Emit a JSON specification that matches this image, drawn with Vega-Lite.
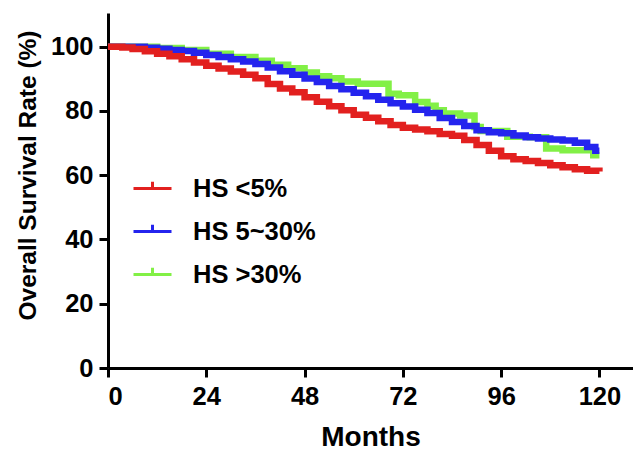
{
  "$schema": "https://vega.github.io/schema/vega-lite/v6.json",
  "autosize": {"type": "none"},
  "padding": {"left": 108, "top": 13, "right": 0, "bottom": 86},
  "width": 525,
  "height": 355,
  "background": "white",
  "datasets": {
    "km": [
      {"g": "HS >30%", "t": 0, "s": 100},
      {"g": "HS >30%", "t": 6, "s": 100},
      {"g": "HS >30%", "t": 12, "s": 99.6},
      {"g": "HS >30%", "t": 18, "s": 99.0},
      {"g": "HS >30%", "t": 24, "s": 97.8},
      {"g": "HS >30%", "t": 30, "s": 96.8},
      {"g": "HS >30%", "t": 36, "s": 95.6},
      {"g": "HS >30%", "t": 40, "s": 94.4},
      {"g": "HS >30%", "t": 44, "s": 93.3},
      {"g": "HS >30%", "t": 48, "s": 92.0},
      {"g": "HS >30%", "t": 51, "s": 90.8},
      {"g": "HS >30%", "t": 54, "s": 90.2},
      {"g": "HS >30%", "t": 57, "s": 89.2},
      {"g": "HS >30%", "t": 61, "s": 88.5},
      {"g": "HS >30%", "t": 68.5, "s": 85.4},
      {"g": "HS >30%", "t": 71, "s": 84.9},
      {"g": "HS >30%", "t": 75, "s": 82.8},
      {"g": "HS >30%", "t": 78, "s": 81.6},
      {"g": "HS >30%", "t": 80, "s": 80.2},
      {"g": "HS >30%", "t": 82, "s": 79.2},
      {"g": "HS >30%", "t": 86, "s": 78.6},
      {"g": "HS >30%", "t": 89.5, "s": 75.0},
      {"g": "HS >30%", "t": 91, "s": 73.8},
      {"g": "HS >30%", "t": 97.5, "s": 72.0},
      {"g": "HS >30%", "t": 103, "s": 71.8},
      {"g": "HS >30%", "t": 107, "s": 68.3},
      {"g": "HS >30%", "t": 111, "s": 67.8},
      {"g": "HS >30%", "t": 118.5, "s": 66.2},
      {"g": "HS >30%", "t": 120, "s": 66.2},

      {"g": "HS 5~30%", "t": 0, "s": 100},
      {"g": "HS 5~30%", "t": 6, "s": 100},
      {"g": "HS 5~30%", "t": 9, "s": 99.7},
      {"g": "HS 5~30%", "t": 12, "s": 99.4},
      {"g": "HS 5~30%", "t": 15, "s": 99.0},
      {"g": "HS 5~30%", "t": 18, "s": 98.7},
      {"g": "HS 5~30%", "t": 21, "s": 98.1},
      {"g": "HS 5~30%", "t": 24, "s": 97.4},
      {"g": "HS 5~30%", "t": 27, "s": 96.8},
      {"g": "HS 5~30%", "t": 30, "s": 96.1},
      {"g": "HS 5~30%", "t": 33, "s": 95.4},
      {"g": "HS 5~30%", "t": 36, "s": 94.6},
      {"g": "HS 5~30%", "t": 39, "s": 93.5},
      {"g": "HS 5~30%", "t": 42, "s": 92.4},
      {"g": "HS 5~30%", "t": 45, "s": 91.3},
      {"g": "HS 5~30%", "t": 48, "s": 90.1},
      {"g": "HS 5~30%", "t": 51, "s": 89.0},
      {"g": "HS 5~30%", "t": 54, "s": 87.8},
      {"g": "HS 5~30%", "t": 57, "s": 86.8},
      {"g": "HS 5~30%", "t": 60, "s": 85.7},
      {"g": "HS 5~30%", "t": 63, "s": 84.6},
      {"g": "HS 5~30%", "t": 66, "s": 83.5},
      {"g": "HS 5~30%", "t": 69, "s": 82.4},
      {"g": "HS 5~30%", "t": 72, "s": 81.4},
      {"g": "HS 5~30%", "t": 75, "s": 80.4},
      {"g": "HS 5~30%", "t": 78, "s": 79.4},
      {"g": "HS 5~30%", "t": 81, "s": 77.8},
      {"g": "HS 5~30%", "t": 84, "s": 76.6},
      {"g": "HS 5~30%", "t": 87, "s": 75.3},
      {"g": "HS 5~30%", "t": 90, "s": 74.0},
      {"g": "HS 5~30%", "t": 93, "s": 73.4},
      {"g": "HS 5~30%", "t": 96, "s": 73.1},
      {"g": "HS 5~30%", "t": 99, "s": 72.4},
      {"g": "HS 5~30%", "t": 102, "s": 71.8},
      {"g": "HS 5~30%", "t": 105, "s": 71.4},
      {"g": "HS 5~30%", "t": 108, "s": 71.1},
      {"g": "HS 5~30%", "t": 111, "s": 70.8},
      {"g": "HS 5~30%", "t": 114, "s": 70.1},
      {"g": "HS 5~30%", "t": 117, "s": 68.8},
      {"g": "HS 5~30%", "t": 119, "s": 67.6},
      {"g": "HS 5~30%", "t": 120, "s": 67.6},

      {"g": "HS <5%", "t": 0, "s": 100},
      {"g": "HS <5%", "t": 3.5, "s": 99.8},
      {"g": "HS <5%", "t": 6, "s": 99.3},
      {"g": "HS <5%", "t": 9, "s": 98.6},
      {"g": "HS <5%", "t": 12, "s": 97.8},
      {"g": "HS <5%", "t": 15, "s": 97.0},
      {"g": "HS <5%", "t": 18, "s": 96.1},
      {"g": "HS <5%", "t": 21, "s": 95.1},
      {"g": "HS <5%", "t": 24, "s": 94.1},
      {"g": "HS <5%", "t": 27, "s": 93.2},
      {"g": "HS <5%", "t": 30, "s": 92.3},
      {"g": "HS <5%", "t": 33, "s": 91.3},
      {"g": "HS <5%", "t": 36, "s": 90.2},
      {"g": "HS <5%", "t": 39, "s": 88.4},
      {"g": "HS <5%", "t": 42, "s": 87.0},
      {"g": "HS <5%", "t": 45, "s": 85.8},
      {"g": "HS <5%", "t": 48, "s": 84.3},
      {"g": "HS <5%", "t": 51, "s": 82.9},
      {"g": "HS <5%", "t": 54, "s": 81.5},
      {"g": "HS <5%", "t": 57, "s": 80.2},
      {"g": "HS <5%", "t": 60, "s": 78.8},
      {"g": "HS <5%", "t": 63, "s": 77.9},
      {"g": "HS <5%", "t": 66, "s": 76.8},
      {"g": "HS <5%", "t": 69, "s": 75.6},
      {"g": "HS <5%", "t": 72, "s": 74.8},
      {"g": "HS <5%", "t": 75, "s": 74.2},
      {"g": "HS <5%", "t": 78, "s": 73.7},
      {"g": "HS <5%", "t": 81, "s": 72.8},
      {"g": "HS <5%", "t": 84, "s": 72.3},
      {"g": "HS <5%", "t": 87, "s": 71.0},
      {"g": "HS <5%", "t": 90, "s": 69.4},
      {"g": "HS <5%", "t": 93, "s": 67.6},
      {"g": "HS <5%", "t": 96, "s": 65.9},
      {"g": "HS <5%", "t": 99, "s": 65.0},
      {"g": "HS <5%", "t": 102, "s": 64.4},
      {"g": "HS <5%", "t": 105, "s": 63.8},
      {"g": "HS <5%", "t": 108, "s": 63.1},
      {"g": "HS <5%", "t": 111, "s": 62.5},
      {"g": "HS <5%", "t": 114, "s": 61.9},
      {"g": "HS <5%", "t": 117, "s": 61.4},
      {"g": "HS <5%", "t": 120, "s": 61.2}
    ]
  },
  "data": {"name": "km"},
  "encoding": {
    "x": {
      "field": "t",
      "type": "quantitative",
      "scale": {"domain": [0, 128.2], "nice": false, "zero": false},
      "axis": {
        "title": "Months",
        "values": [0, 24, 48, 72, 96, 120],
        "titleFontSize": 28,
        "titlePadding": 14,
        "labelPadding": 7
      }
    },
    "y": {
      "field": "s",
      "type": "quantitative",
      "scale": {"domain": [0, 110.5], "nice": false},
      "axis": {
        "title": "Overall Survival Rate (%)",
        "values": [0, 20, 40, 60, 80, 100],
        "titleFontSize": 24.5,
        "titleX": -68,
        "titleY": 162,
        "labelPadding": 6
      }
    },
    "color": {
      "field": "g",
      "type": "nominal",
      "scale": {
        "domain": ["HS <5%", "HS 5~30%", "HS >30%"],
        "range": ["#E2201F", "#2424EE", "#82F046"]
      },
      "legend": {
        "title": null,
        "orient": "none",
        "legendX": 24,
        "legendY": 155,
        "padding": 0,
        "symbolType": "M-1,0H1M0,0V-0.35",
        "symbolSize": 1444,
        "symbolStrokeWidth": 3,
        "labelOffset": 20,
        "rowPadding": 9,
        "labelFontSize": 25.5,
        "labelFont": "Liberation Sans",
        "labelFontWeight": "bold",
        "labelColor": "black"
      }
    }
  },
  "layer": [
    {
      "transform": [{"filter": "datum.g === 'HS >30%'"}],
      "mark": {"type": "line", "interpolate": "step-after", "strokeWidth": 6.5}
    },
    {
      "transform": [{"filter": "datum.g === 'HS 5~30%'"}],
      "mark": {"type": "line", "interpolate": "step-after", "strokeWidth": 6.5}
    },
    {
      "transform": [{"filter": "datum.g === 'HS <5%'"}],
      "mark": {"type": "line", "interpolate": "step-after", "strokeWidth": 6.5}
    }
  ],
  "config": {
    "view": {"stroke": null},
    "axis": {
      "grid": false,
      "domainColor": "black",
      "domainWidth": 3,
      "tickColor": "black",
      "tickWidth": 3,
      "tickSize": 9,
      "labelFont": "Liberation Sans",
      "labelFontWeight": "bold",
      "labelFontSize": 25.5,
      "labelColor": "black",
      "titleFont": "Liberation Sans",
      "titleFontWeight": "bold",
      "titleColor": "black"
    }
  }
}
